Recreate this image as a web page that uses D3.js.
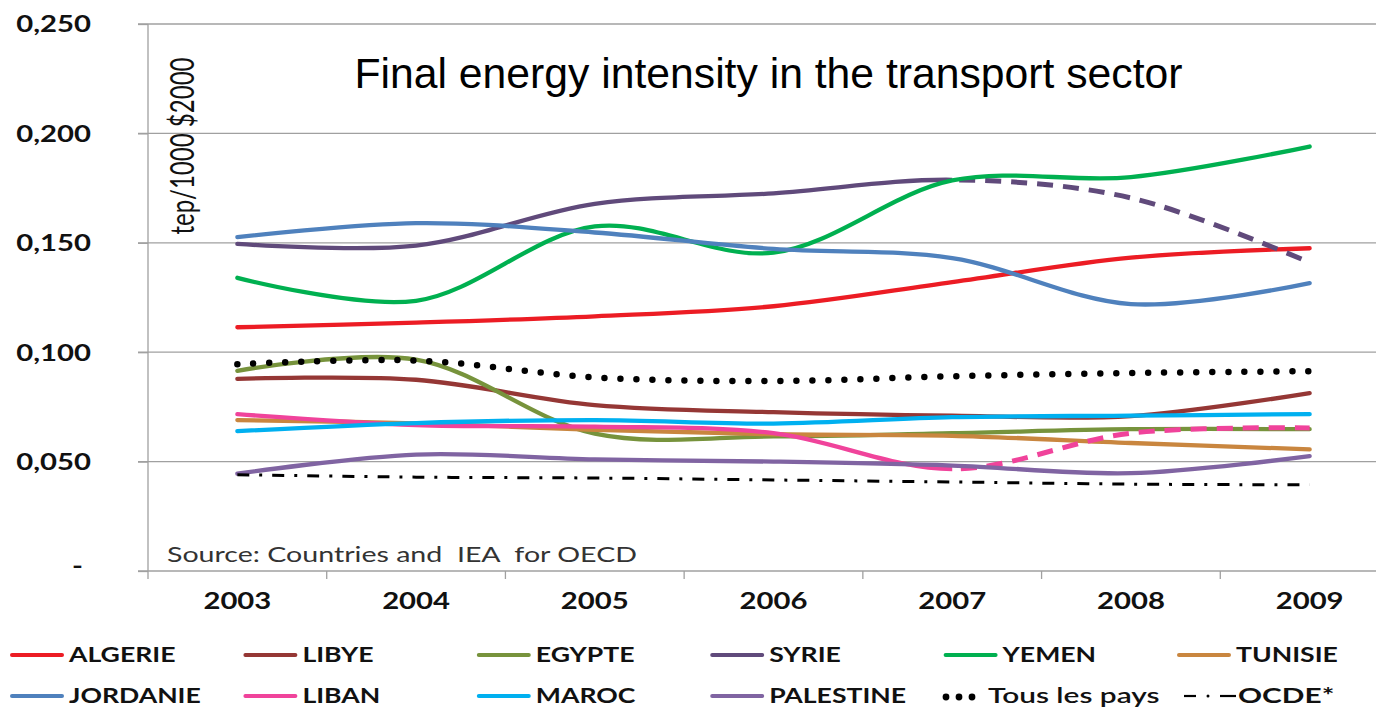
<!DOCTYPE html>
<html>
<head>
<meta charset="utf-8">
<script src="https://cdn.jsdelivr.net/npm/d3@7/dist/d3.min.js"></script>
<style>
  body { margin: 0; background: #fff; }
  svg { display: block; }
</style>
</head>
<body>
<svg id="chart"></svg>
<script>
// values (tep/1000 $2000)
const years = ["2003", "2004", "2005", "2006", "2007", "2008", "2009"];
const yTicks = [0, 0.05, 0.10, 0.15, 0.20, 0.25];

const algerie   = [0.1114, 0.1135, 0.1164, 0.1210, 0.1320, 0.1432, 0.1475];
const libye     = [0.0878, 0.0874, 0.0758, 0.0726, 0.0710, 0.0708, 0.0813];
const egypte    = [0.0915, 0.0966, 0.0628, 0.0615, 0.0630, 0.0648, 0.0648];
const syrie     = [0.1495, 0.1487, 0.1678, 0.1726, 0.1788, 0.1705, 0.1410];
const yemen     = [0.1340, 0.1235, 0.1575, 0.1455, 0.1785, 0.1800, 0.1940];
const tunisie   = [0.0690, 0.0675, 0.0645, 0.0625, 0.0618, 0.0585, 0.0556];
const jordanie  = [0.1526, 0.1590, 0.1547, 0.1472, 0.1430, 0.1220, 0.1316];
const liban     = [0.0717, 0.0667, 0.0660, 0.0630, 0.0466, 0.0630, 0.0654];
const maroc     = [0.0639, 0.0676, 0.0690, 0.0674, 0.0703, 0.0710, 0.0717];
const palestine = [0.0445, 0.0532, 0.0510, 0.0500, 0.0482, 0.0447, 0.0525];
const tousPays  = [0.0945, 0.0962, 0.0885, 0.0868, 0.0890, 0.0905, 0.0913];
const ocde      = [0.0440, 0.0429, 0.0425, 0.0416, 0.0407, 0.0397, 0.0394];

const series = [
  {name: "ALGERIE",   values: algerie,   color: "#EC1C24"},
  {name: "LIBYE",     values: libye,     color: "#953735"},
  {name: "EGYPTE",    values: egypte,    color: "#77933C"},
  {name: "SYRIE",     values: syrie,     color: "#604A7B", dashedFrom: "2007"},
  {name: "YEMEN",     values: yemen,     color: "#00B050"},
  {name: "TUNISIE",   values: tunisie,   color: "#C9863F"},
  {name: "JORDANIE",  values: jordanie,  color: "#4F81BD"},
  {name: "LIBAN",     values: liban,     color: "#F0439B", dashedFrom: "2007"},
  {name: "MAROC",     values: maroc,     color: "#00B0F0"},
  {name: "PALESTINE", values: palestine, color: "#8064A2"},
  {name: "Tous les pays", values: tousPays, color: "#000", kind: "dots"},
  {name: "OCDE*",     values: ocde,      color: "#000", kind: "dashdot"}
];

const W = 1376, H = 711;
const svg = d3.select("#chart").attr("width", W).attr("height", H);
svg.append("rect").attr("width", W).attr("height", H).attr("fill", "#fff");

const x = d3.scaleBand().domain(years).range([148, 1399]);
const xc = d => x(d) + x.bandwidth() / 2;
const y = d3.scaleLinear().domain([0, 0.25]).range([571, 24]);

// widen text a bit, the original typeface is wider than Lato
const stretch = (sel, k) => sel.each(function() {
  const w = this.getComputedTextLength();
  d3.select(this).attr("textLength", w * k).attr("lengthAdjust", "spacingAndGlyphs");
});
const K = 1.33;

// gridlines
svg.append("g")
  .selectAll("line")
  .data(yTicks.filter(d => d > 0))
  .join("line")
  .attr("x1", 138).attr("x2", W)
  .attr("y1", d => y(d)).attr("y2", d => y(d))
  .attr("stroke", "#A0A0A0").attr("stroke-width", 1.3);

// y axis
const fmt = d => d === 0 ? "-" : d3.format(".3f")(d).replace(".", ",");
const yAxis = svg.append("g")
  .attr("transform", "translate(148,0)")
  .call(d3.axisLeft(y).tickValues(yTicks).tickFormat(fmt).tickSize(10).tickPadding(47));
yAxis.select(".domain").attr("stroke", "#A0A0A0").attr("stroke-width", 1.3)
  .attr("d", `M0,${y(0.25)}V${y(0) + 8}`);
yAxis.selectAll(".tick line").attr("stroke", "#A0A0A0").attr("stroke-width", 1.3);
yAxis.selectAll(".tick text")
  .attr("font-family", "Lato, sans-serif").attr("font-weight", "bold")
  .attr("font-size", 22).attr("fill", "#111")
  .attr("dy", "0.36em")
  .call(stretch, K);
yAxis.selectAll(".tick text").filter(d => d === 0).attr("dx", -8).attr("dy", "0.1em");

// x axis: labels at the band centres, ticks on the band edges
const xAxis = svg.append("g")
  .attr("transform", `translate(0,${y(0)})`)
  .call(d3.axisBottom(x).tickSize(0).tickPadding(22));
xAxis.select(".domain").attr("stroke", "#A0A0A0").attr("stroke-width", 1.3)
  .attr("d", `M138,0H${W}`);
xAxis.selectAll(".tick text")
  .attr("font-family", "Lato, sans-serif").attr("font-weight", "bold")
  .attr("font-size", 22).attr("fill", "#111")
  .call(stretch, K);
xAxis.append("g").selectAll("line")
  .data(years.map(d => x(d)).slice(1))
  .join("line")
  .attr("x1", d => d).attr("x2", d => d)
  .attr("y1", 0).attr("y2", 8)
  .attr("stroke", "#A0A0A0").attr("stroke-width", 1.3);

// clip paths for the solid / dashed parts
const defs = svg.append("defs");
series.filter(s => s.dashedFrom).forEach((s, i) => {
  const cut = xc(s.dashedFrom);
  defs.append("clipPath").attr("id", "left" + i)
    .append("rect").attr("x", 0).attr("y", 0).attr("width", cut).attr("height", H);
  defs.append("clipPath").attr("id", "right" + i)
    .append("rect").attr("x", cut).attr("y", 0).attr("width", W - cut).attr("height", H);
  s.clip = i;
});

const line = d3.line()
  .x((d, i) => xc(years[i]))
  .y(d => y(d))
  .curve(d3.curveCatmullRom.alpha(0.5));

const lines = svg.append("g").attr("fill", "none");
series.forEach(s => {
  if (s.kind === "dots") {
    lines.append("path").attr("d", line(s.values))
      .attr("stroke", s.color).attr("stroke-width", 6.5)
      .attr("stroke-linecap", "round").attr("stroke-dasharray", "0 16");
  } else if (s.kind === "dashdot") {
    lines.append("path").attr("d", line(s.values))
      .attr("stroke", s.color).attr("stroke-width", 3)
      .attr("stroke-dasharray", "12 10 3 10");
  } else if (s.dashedFrom) {
    lines.append("path").attr("d", line(s.values))
      .attr("clip-path", `url(#left${s.clip})`)
      .attr("stroke", s.color).attr("stroke-width", 4.3).attr("stroke-linecap", "round");
    lines.append("path").attr("d", line(s.values))
      .attr("clip-path", `url(#right${s.clip})`)
      .attr("stroke", s.color).attr("stroke-width", 5)
      .attr("stroke-dasharray", "16 10");
  } else {
    lines.append("path").attr("d", line(s.values))
      .attr("stroke", s.color).attr("stroke-width", 4.3).attr("stroke-linecap", "round");
  }
});

// title, unit and source
svg.append("text")
  .attr("x", 768.5).attr("y", 88)
  .attr("text-anchor", "middle")
  .attr("font-family", "'Liberation Sans', Arial, sans-serif")
  .attr("font-size", 42.7).attr("fill", "#000")
  .text("Final energy intensity in the transport sector");

svg.append("text")
  .attr("transform", "translate(194,146) scale(1.42,1) rotate(-90)")
  .attr("text-anchor", "middle")
  .attr("font-family", "Lato, sans-serif")
  .attr("font-size", 23).attr("fill", "#111")
  .attr("textLength", 177).attr("lengthAdjust", "spacingAndGlyphs")
  .text("tep/1000 $2000");

svg.append("text")
  .attr("x", 167).attr("y", 562)
  .attr("font-family", "Lato, sans-serif")
  .attr("font-size", 21).attr("fill", "#333")
  .style("white-space", "pre")
  .text("Source: Countries and  IEA  for OECD")
  .call(stretch, 1.36);

// legend, two rows of six
const legend = svg.append("g");
series.forEach((s, i) => {
  const row = Math.floor(i / 6), col = i % 6;
  let lx = 12 + col * 233.4;
  const ly = 655 + row * 41;
  let tx = 57, fs = 20, k = K;
  if (s.kind === "dots") lx = 946;
  if (s.kind === "dashdot") lx = 1184;
  const g = legend.append("g").attr("transform", `translate(${lx},${ly})`);
  if (s.kind === "dots") {
    g.selectAll("circle").data([0, 1, 2]).join("circle")
      .attr("cx", d => d * 13).attr("cy", 1).attr("r", 3.4).attr("fill", "#000");
    tx = 42; fs = 21; k = 1.42;
  } else if (s.kind === "dashdot") {
    g.append("line").attr("x1", 0).attr("x2", 12).attr("stroke", "#000").attr("stroke-width", 2.2);
    g.append("circle").attr("cx", 24).attr("cy", 0).attr("r", 1.5).attr("fill", "#000");
    g.append("line").attr("x1", 36).attr("x2", 52).attr("stroke", "#000").attr("stroke-width", 2.2);
    tx = 54; fs = 21; k = 1.42;
  } else {
    g.append("line").attr("x1", 0).attr("x2", 50)
      .attr("stroke", s.color).attr("stroke-width", 4).attr("stroke-linecap", "round");
  }
  g.append("text").attr("x", tx).attr("y", 7)
    .attr("font-family", "Lato, sans-serif")
    .attr("font-weight", s.kind === "dots" ? "600" : "bold")
    .attr("font-size", fs).attr("fill", "#111")
    .text(s.name)
    .call(stretch, k);
});
</script>
</body>
</html>
